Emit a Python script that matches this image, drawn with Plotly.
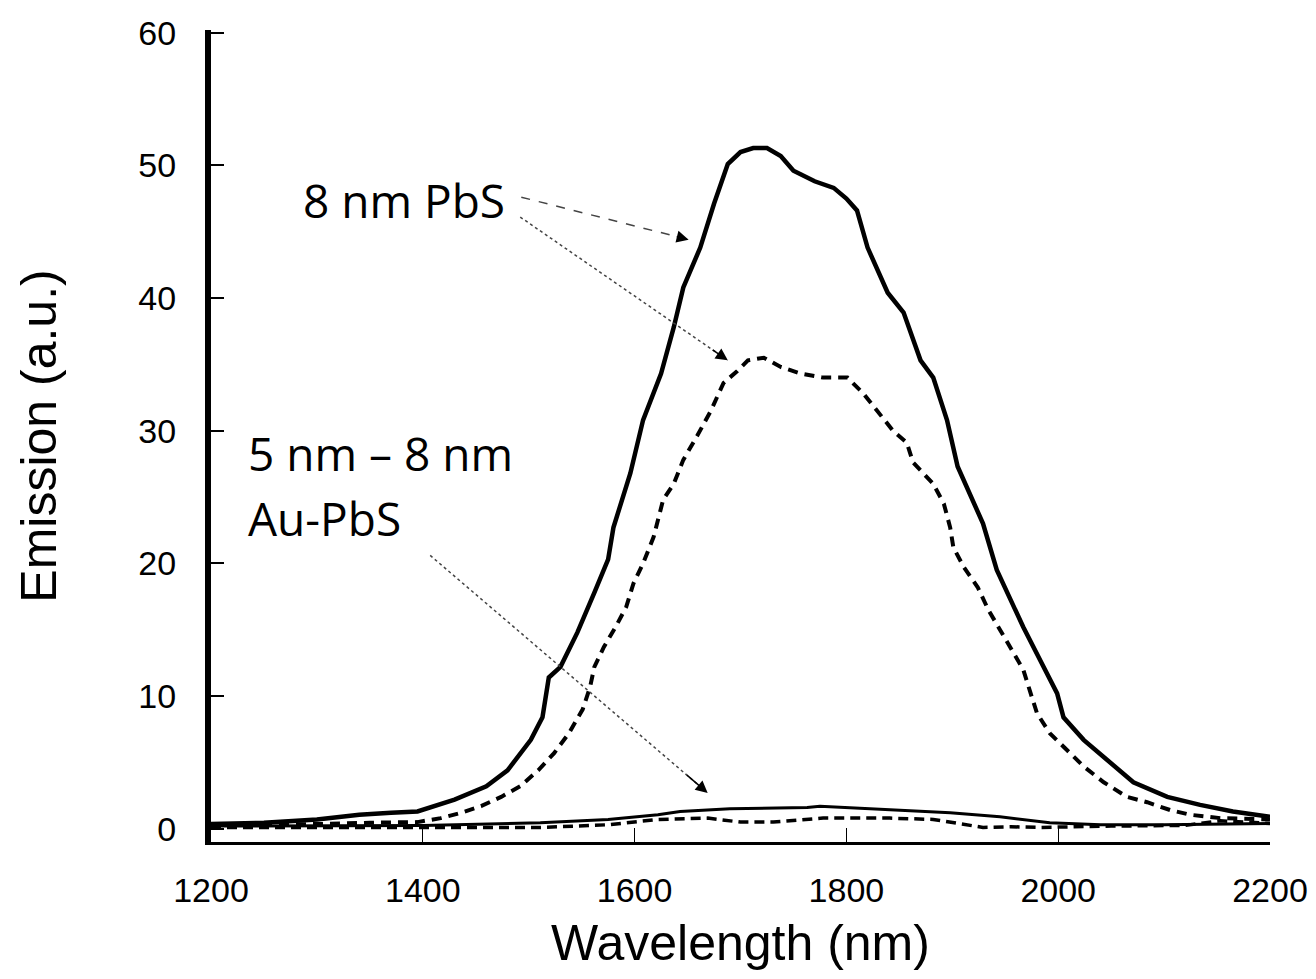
import plotly.graph_objects as go

# 8 nm PbS, solid curve
pbs_solid_nm = [1200, 1250, 1300, 1340, 1370, 1395, 1430, 1460, 1480, 1502, 1513, 1516, 1519, 1530,
                1546, 1562, 1575, 1580, 1596, 1608, 1625, 1637, 1646, 1662, 1675, 1688, 1700, 1712,
                1725, 1738, 1750, 1770, 1788, 1800, 1810, 1820, 1839, 1854, 1870, 1882, 1895, 1905,
                1929, 1942, 1967, 1983, 1999, 2005, 2024, 2046, 2071, 2103, 2134, 2165, 2200]
pbs_solid = [0.35, 0.45, 0.7, 1.05, 1.2, 1.3, 2.2, 3.2, 4.4, 6.7, 8.4, 9.7, 11.4, 12.2,
             14.8, 17.8, 20.3, 22.7, 26.8, 30.8, 34.3, 37.8, 40.8, 43.8, 47.1, 50.1, 51.0, 51.3,
             51.3, 50.7, 49.6, 48.8, 48.3, 47.5, 46.6, 43.8, 40.4, 38.9, 35.3, 34.0, 30.8, 27.3,
             23.0, 19.5, 15.2, 12.7, 10.2, 8.4, 6.7, 5.2, 3.5, 2.4, 1.8, 1.3, 0.9]

# 8 nm PbS, dashed curve
pbs_dashed_nm = [1200, 1250, 1300, 1350, 1395, 1417, 1436, 1455, 1474, 1492, 1509, 1524, 1538, 1551,
                 1558, 1562, 1571, 1582, 1592, 1599, 1608, 1618, 1627, 1637, 1646, 1659, 1672, 1684,
                 1697, 1707, 1722, 1738, 1757, 1778, 1801, 1816, 1829, 1844, 1857, 1863, 1882, 1892,
                 1898, 1901, 1911, 1924, 1934, 1945, 1957, 1967, 1974, 1980, 1992, 2008, 2024, 2043,
                 2065, 2084, 2106, 2125, 2153, 2200]
pbs_dashed = [0.3, 0.3, 0.35, 0.45, 0.5, 0.8, 1.2, 1.7, 2.4, 3.2, 4.4, 5.7, 7.2, 9.0,
              10.7, 12.2, 13.7, 15.2, 16.7, 18.5, 20.0, 22.0, 24.8, 26.0, 27.8, 29.6, 31.5, 33.6,
              34.5, 35.3, 35.5, 34.8, 34.3, 34.0, 34.0, 32.8, 31.5, 30.0, 29.1, 27.6, 26.0, 24.5,
              22.7, 21.2, 19.7, 18.2, 16.5, 15.0, 13.3, 12.0, 10.2, 8.7, 7.2, 5.9, 4.7, 3.5,
              2.4, 2.0, 1.4, 1.05, 0.8, 0.7]

# 5 nm - 8 nm Au-PbS, solid curve
aupbs_solid_nm = [1200, 1300, 1400, 1511, 1575, 1622, 1643, 1690, 1763, 1775, 1825, 1851, 1898,
                  1945, 1992, 2040, 2100, 2200]
aupbs_solid = [0.2, 0.2, 0.25, 0.45, 0.7, 1.05, 1.3, 1.5, 1.6, 1.7, 1.5, 1.35, 1.2,
               0.9, 0.45, 0.3, 0.3, 0.4]

# 5 nm - 8 nm Au-PbS, dashed curve
aupbs_dashed_nm = [1200, 1300, 1400, 1511, 1575, 1622, 1669, 1700, 1731, 1778, 1810, 1841, 1882,
                   1929, 1955, 1983, 2050, 2120, 2153, 2200]
aupbs_dashed = [0.1, 0.1, 0.1, 0.1, 0.3, 0.7, 0.8, 0.5, 0.5, 0.8, 0.8, 0.8, 0.7,
                0.1, 0.15, 0.1, 0.2, 0.25, 0.6, 0.4]

fig = go.Figure()

fig.add_trace(go.Scatter(x=aupbs_solid_nm, y=aupbs_solid, mode='lines',
                         line=dict(color='black', width=3)))
fig.add_trace(go.Scatter(x=aupbs_dashed_nm, y=aupbs_dashed, mode='lines',
                         line=dict(color='black', width=3.5, dash='10px,6px')))
fig.add_trace(go.Scatter(x=pbs_dashed_nm, y=pbs_dashed, mode='lines',
                         line=dict(color='black', width=4, dash='10px,7px')))
fig.add_trace(go.Scatter(x=pbs_solid_nm, y=pbs_solid, mode='lines',
                         line=dict(color='black', width=4.5)))

label_font = dict(family='Open Sans', size=46, color='black')
fig.add_annotation(x=1285, y=47.4, text='8 nm PbS', showarrow=False,
                   xanchor='left', yanchor='middle', font=label_font)
fig.add_annotation(x=1233, y=28.3, text='5 nm \u2013 8 nm', showarrow=False,
                   xanchor='left', yanchor='middle', font=label_font)
fig.add_annotation(x=1233, y=23.4, text='Au-PbS', showarrow=False,
                   xanchor='left', yanchor='middle', font=label_font)

# pointer lines (start, tip, dash)
pointers = [
    ((1493, 47.6), (1651, 44.4), 'dash'),
    ((1492, 46.1), (1688, 35.3), 'dot'),
    ((1407, 20.6), (1669, 2.7), 'dot'),
]
for (x0, y0), (x1, y1), dash in pointers:
    fig.add_shape(type='line', x0=x0, y0=y0, x1=x1, y1=y1, xref='x', yref='y',
                  line=dict(color='#444444', width=1.5, dash=dash))
    bx = x1 - (x1 - x0) * 0.08
    by = y1 - (y1 - y0) * 0.08
    fig.add_annotation(x=x1, y=y1, ax=bx, ay=by, axref='x', ayref='y', text='',
                       showarrow=True, arrowhead=2, arrowsize=1.6, arrowwidth=1.5,
                       arrowcolor='black')

tick_font = dict(family='Liberation Sans', size=34, color='black')
title_font = dict(family='Liberation Sans', size=50, color='black')

fig.update_xaxes(range=[1200, 2200], dtick=200, tick0=1200, automargin=False,
                 showline=True, linecolor='black', linewidth=3,
                 ticks='inside', ticklen=14, tickwidth=1, tickcolor='black',
                 showgrid=False, zeroline=False, tickfont=tick_font,
                 ticklabelstandoff=16,
                 title=dict(text='Wavelength (nm)', font=title_font, standoff=26))
fig.update_yaxes(range=[-1, 60.2], dtick=10, tick0=0, automargin=False,
                 showline=True, linecolor='black', linewidth=6,
                 ticks='inside', ticklen=13, tickwidth=2, tickcolor='black',
                 showgrid=False, zeroline=False, tickfont=tick_font,
                 ticklabelstandoff=22,
                 title=dict(text='Emission (a.u.)', font=title_font, standoff=68))

# the page puts an 8 px body margin round the figure, so size it to fit inside
fig.update_layout(width=1308, height=963,
                  margin=dict(l=203, r=46, t=22, b=129),
                  plot_bgcolor='white', paper_bgcolor='white',
                  showlegend=False)

fig.write_html("out.html")
